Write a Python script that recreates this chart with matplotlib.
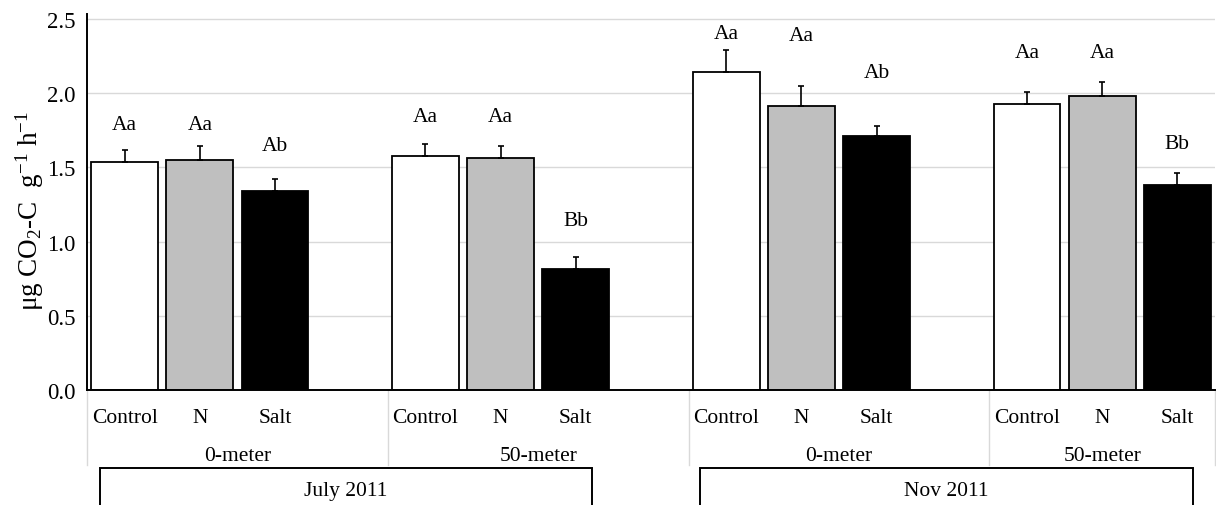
import matplotlib
matplotlib.use("Agg")
import matplotlib.pyplot as plt
from matplotlib.patches import Rectangle
import numpy as np

plt.rcParams['font.family'] = ['Liberation Serif', 'DejaVu Serif']
plt.rcParams['mathtext.fontset'] = 'custom'
plt.rcParams['mathtext.rm'] = 'Liberation Serif'
plt.rcParams['mathtext.it'] = 'Liberation Serif:italic'
plt.rcParams['mathtext.bf'] = 'Liberation Serif:bold'

# ---------------- data ----------------
treatments = ["Control", "N", "Salt"]
sites = ["0-meter", "50-meter", "0-meter", "50-meter"]
months = ["July 2011", "Nov 2011"]

control_mean = [1.534, 1.577, 2.145, 1.925]
n_mean = [1.550, 1.561, 1.916, 1.983]
salt_mean = [1.341, 0.817, 1.714, 1.379]

control_se = [0.080, 0.081, 0.144, 0.083]
n_se = [0.096, 0.081, 0.133, 0.090]
salt_se = [0.083, 0.081, 0.067, 0.085]

control_letters = ["Aa", "Aa", "Aa", "Aa"]
n_letters = ["Aa", "Aa", "Aa", "Aa"]
salt_letters = ["Ab", "Bb", "Ab", "Bb"]

# heights (data units) where the significance letters are placed
control_label_y = [1.792, 1.844, 2.399, 2.276]
n_label_y = [1.792, 1.844, 2.387, 2.276]
salt_label_y = [1.646, 1.141, 2.141, 1.658]

y_ticks = [0.0, 0.5, 1.0, 1.5, 2.0, 2.5]

# ---------------- layout ----------------
W, H = 1216, 506
fig = plt.figure(figsize=(W / 100, H / 100), dpi=100)
ax_l, ax_r, ax_b, ax_t = 87, 1215, 391, 15
ax = fig.add_axes([ax_l / W, 1 - ax_b / H, (ax_r - ax_l) / W, (ax_b - ax_t) / H])

means = [control_mean, n_mean, salt_mean]
ses = [control_se, n_se, salt_se]
letters = [control_letters, n_letters, salt_letters]
label_ys = [control_label_y, n_label_y, salt_label_y]
colors = ["white", "#bfbfbf", "black"]

slots_per_group = 4
n_groups = len(sites)
bar_w = 0.89
fs = 15.5

for j, tr in enumerate(treatments):
    xs = np.array([slots_per_group * g + j + 0.5 for g in range(n_groups)])
    ax.bar(xs, means[j], width=bar_w, color=colors[j], edgecolor="black",
           linewidth=1.3, zorder=3)
    ax.errorbar(xs, means[j], yerr=[np.zeros(n_groups), ses[j]], fmt="none",
                ecolor="black", elinewidth=1.2, capsize=2.2, capthick=1.2, zorder=4)
    for g in range(n_groups):
        ax.text(xs[g], label_ys[j][g], letters[j][g], ha="center", va="center",
                fontsize=fs, zorder=5)
        ax.annotate(tr, xy=(xs[g], 0), xycoords=("data", "axes fraction"),
                    xytext=(0, -28), textcoords="offset pixels",
                    ha="center", va="center", fontsize=fs, annotation_clip=False)

xmax = slots_per_group * (n_groups - 1) + len(treatments)
ax.set_xlim(0, xmax)
ax.set_ylim(0, (ax_b - ax_t) / 148.4)

ax.set_yticks(y_ticks)
ax.set_yticklabels([f"{v:.1f}" for v in y_ticks])
ax.tick_params(axis="y", length=0, pad=8, labelsize=16.5)
ax.set_xticks([])
ax.grid(axis="y", color="#d9d9d9", linewidth=1.0, zorder=0)
ax.set_axisbelow(True)

for s in ["top", "right"]:
    ax.spines[s].set_visible(False)
ax.spines["left"].set_linewidth(1.4)
ax.spines["bottom"].set_linewidth(1.4)
ax.spines["left"].set_zorder(6)
ax.spines["bottom"].set_zorder(6)

# site labels + separators below the category axis
trans = ax.get_xaxis_transform()
ah = ax_b - ax_t
sep_bottom = (ax_b - 466) / ah
bounds = [slots_per_group * g for g in range(n_groups)] + [xmax]
for b in bounds:
    ax.plot([b, b], [0, sep_bottom], transform=trans, color="#d9d9d9",
            linewidth=1.0, clip_on=False, zorder=1)
for g, site in enumerate(sites):
    left = bounds[g]
    right = bounds[g + 1]
    ax.text((left + right) / 2, (ax_b - 457) / ah, site, transform=trans,
            ha="center", va="center", fontsize=fs)

# month boxes
box_spans = [(0.17, 6.72), (8.15, 14.71)]
box_top = (ax_b - 469) / ah
box_bot = (ax_b - 530) / ah
for (x0, x1), m in zip(box_spans, months):
    rect = Rectangle((x0, box_bot), x1 - x0, box_top - box_bot, transform=trans,
                     facecolor="none", edgecolor="black", linewidth=1.4,
                     clip_on=False)
    ax.add_patch(rect)
    ax.text((x0 + x1) / 2, (ax_b - 492) / ah, m, transform=trans,
            ha="center", va="center", fontsize=fs)

ax.set_ylabel(r"μg CO$_2$-C  g$^{-1}$ h$^{-1}$", fontsize=19.5)
ax.yaxis.set_label_coords((46 - ax_l) / (ax_r - ax_l), (ax_b - 211) / ah)

fig.savefig("out.png", dpi=100)
